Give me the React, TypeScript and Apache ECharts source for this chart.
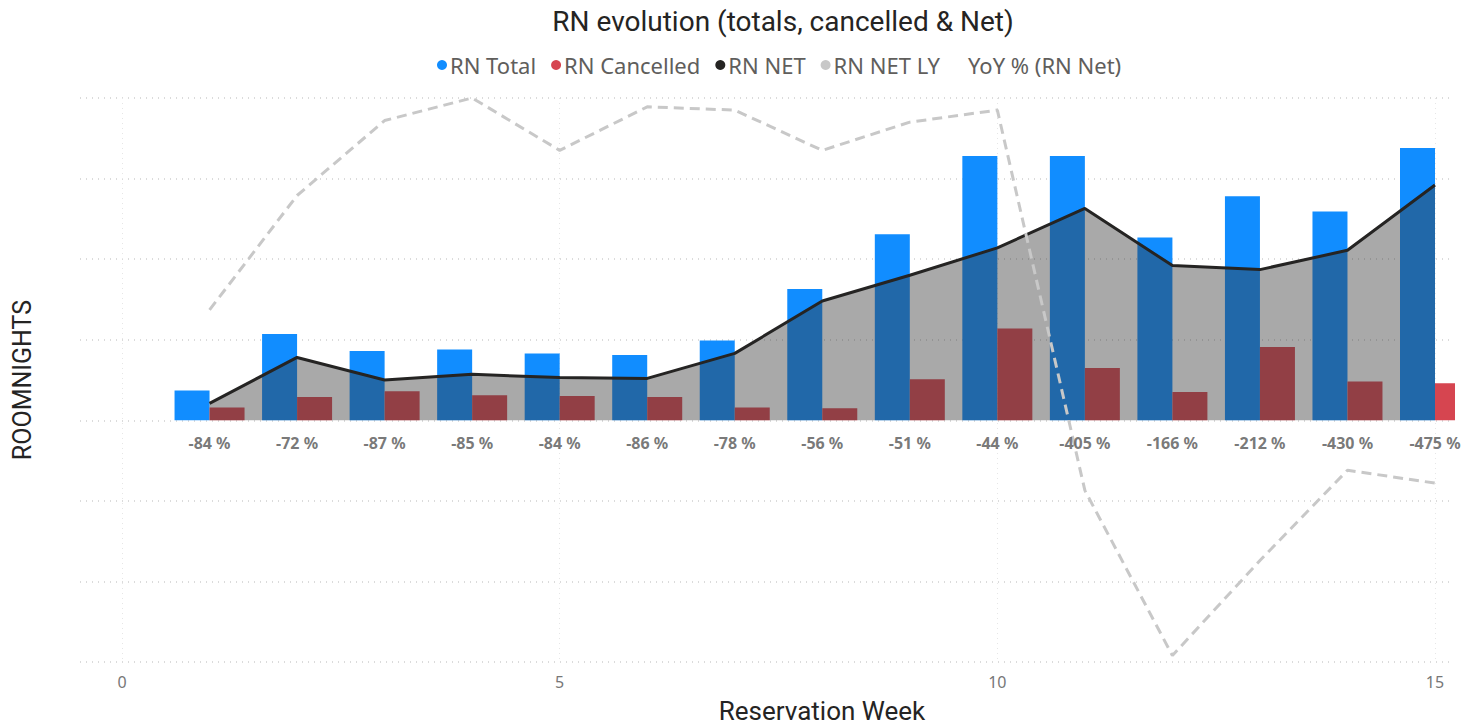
import React, { useEffect, useRef } from "react";
import * as echarts from "echarts";

const weeks = [1, 2, 3, 4, 5, 6, 7, 8, 9, 10, 11, 12, 13, 14, 15];
const rnTotal = [37, 107, 86, 88, 83, 81, 99, 163, 231, 328, 328, 227, 278, 259, 338];
const rnCancelled = [16, 29, 36, 31, 30, 29, 16, 15, 51, 114, 65, 35, 91, 48, 46];
const rnNet = [21, 78, 50, 57, 53, 52, 83, 148, 180, 214, 263, 192, 187, 211, 292];
const rnNetLY = [137, 279, 372, 400, 335, 389, 385, 335, 370, 385, -87, -292, -174, -62, -78];
const yoyPct = [-84, -72, -87, -85, -84, -86, -78, -56, -51, -44, -405, -166, -212, -430, -475];
const xTicks = [0, 5, 10, 15];

const TITLE_FONT = "Roboto, 'DejaVu Sans', sans-serif";
const UI_FONT = "'Noto Sans', 'Open Sans', sans-serif";

export default function App() {
  const ref = useRef<HTMLDivElement>(null);
  useEffect(() => {
    if (!ref.current) return;
    const chart = echarts.init(ref.current, undefined, { renderer: "svg" });
    const pair = (arr: number[]) => weeks.map((w, i) => [w, arr[i]]);
    chart.setOption({
      animation: false,
      backgroundColor: "#ffffff",
      textStyle: { fontFamily: UI_FONT },
      grid: { left: 80, top: 98, width: 1374, height: 564, containLabel: false },
      legend: {
        left: 432,
        top: 49,
        icon: "circle",
        itemWidth: 10,
        itemHeight: 10,
        itemGap: 15,
        textStyle: { fontSize: 22, color: "#605E5C", fontFamily: UI_FONT, padding: [0, 0, 0, -2] },
        data: [
          { name: "RN Total" },
          { name: "RN Cancelled" },
          { name: "RN NET" },
          { name: "RN NET LY" },
          { name: "YoY % (RN Net)", itemStyle: { color: "rgba(0,0,0,0)" } },
        ],
      },
      xAxis: {
        type: "value",
        min: -0.48,
        max: 15.217,
        axisLine: { show: false },
        axisTick: { show: false, customValues: xTicks },
        axisLabel: {
          customValues: xTicks,
          color: "#777777",
          fontSize: 16,
          margin: 12,
          fontFamily: UI_FONT,
        },
        splitLine: { show: true, lineStyle: { color: "#E6E6E6", type: [1, 4], width: 1 } },
      },
      yAxis: {
        type: "value",
        min: -300,
        max: 400,
        interval: 100,
        axisLine: { show: false },
        axisTick: { show: false },
        axisLabel: { show: false },
        splitLine: { show: true, lineStyle: { color: "#D0D0D0", type: [1, 5], width: 1.5 } },
      },
      graphic: [
        {
          type: "text",
          x: 783,
          y: 21,
          style: {
            text: "RN evolution (totals, cancelled & Net)",
            fontSize: 28,
            fontFamily: TITLE_FONT,
            fill: "#252423",
            align: "center",
            verticalAlign: "middle",
          },
        },
        {
          type: "text",
          x: 822,
          y: 711,
          style: {
            text: "Reservation Week",
            fontSize: 26,
            fontFamily: TITLE_FONT,
            fill: "#252423",
            align: "center",
            verticalAlign: "middle",
          },
        },
        {
          type: "text",
          x: 22,
          y: 380,
          rotation: Math.PI / 2,
          style: {
            text: "ROOMNIGHTS",
            fontSize: 25,
            fontFamily: TITLE_FONT,
            fill: "#252423",
            align: "center",
            verticalAlign: "middle",
          },
        },
        {
          type: "rect",
          z: 4,
          shape: { x: 1455, y: 90, width: 20, height: 335 },
          style: { fill: "#ffffff" },
        },
      ],
      series: [
        {
          name: "RN Total",
          type: "bar",
          data: pair(rnTotal),
          barWidth: 35,
          barGap: "0%",
          itemStyle: { color: "#118DFF" },
          z: 2,
        },
        {
          name: "RN Cancelled",
          type: "bar",
          data: pair(rnCancelled),
          barWidth: 35,
          barGap: "0%",
          itemStyle: { color: "#D64550" },
          z: 2,
        },
        {
          name: "RN NET",
          type: "line",
          data: pair(rnNet),
          symbol: "none",
          itemStyle: { color: "#252423" },
          lineStyle: { color: "#252423", width: 3 },
          areaStyle: { color: "#373737", opacity: 0.43 },
          z: 3,
        },
        {
          name: "RN NET LY",
          type: "line",
          data: pair(rnNetLY),
          symbol: "none",
          itemStyle: { color: "#C8C8C8" },
          lineStyle: { color: "#C8C8C8", width: 3, type: [10, 6] },
          z: 4,
        },
        {
          name: "YoY % (RN Net)",
          type: "scatter",
          data: weeks.map((w, i) => [w, 0, yoyPct[i]]),
          symbolSize: 1,
          itemStyle: { color: "rgba(0,0,0,0)" },
          label: {
            show: true,
            position: "bottom",
            distance: 14,
            formatter: (p: any) => `${p.value[2]} %`,
            fontSize: 16,
            fontWeight: "bold",
            color: "#555555",
            fontFamily: UI_FONT,
          },
          z: 5,
        },
      ],
    });
    return () => chart.dispose();
  }, []);
  return (
    <div
      ref={ref}
      style={{ position: "absolute", left: 0, top: 0, width: 1466, height: 726, overflow: "hidden" }}
    />
  );
}
